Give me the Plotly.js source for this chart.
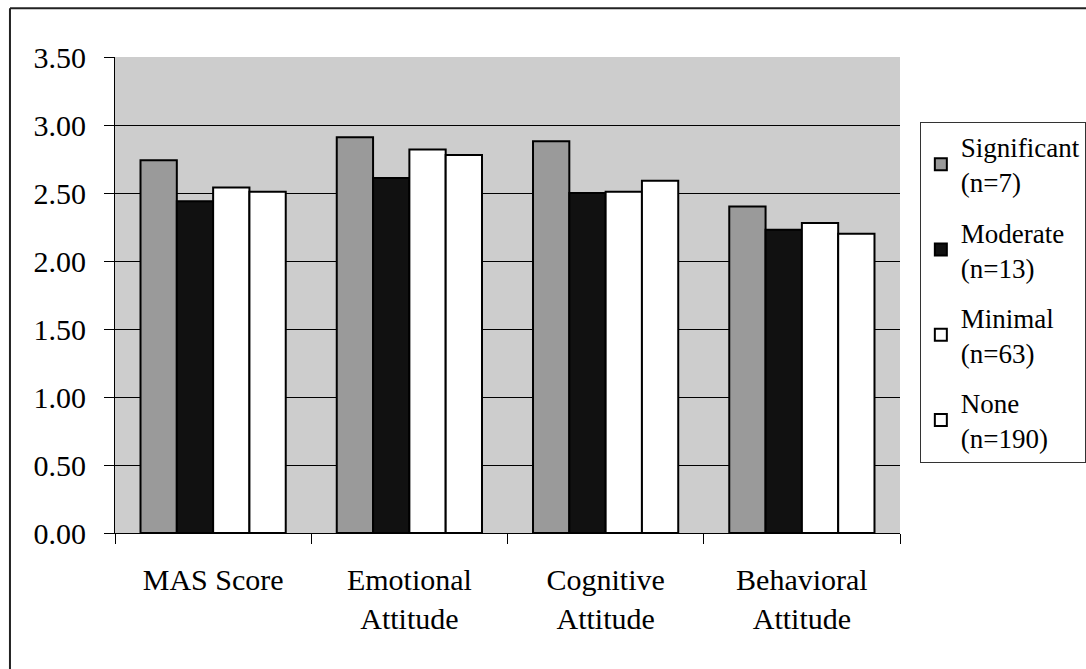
<!DOCTYPE html>
<html>
<head>
<meta charset="utf-8">
<script src="https://cdn.plot.ly/plotly-3.0.1.min.js"></script>
<style>
html,body{margin:0;padding:0;background:#fff;}
#chart{width:1086px;height:669px;}
</style>
</head>
<body>
<div id="chart"></div>
<script>
const categories = ["MAS Score", "Emotional<br>Attitude", "Cognitive<br>Attitude", "Behavioral<br>Attitude"];
const seriesNames = ["Significant<br>(n=7)", "Moderate<br>(n=13)", "Minimal<br>(n=63)", "None<br>(n=190)"];
const significant = [2.74, 2.91, 2.88, 2.40];
const moderate = [2.44, 2.61, 2.50, 2.23];
const minimal = [2.54, 2.82, 2.51, 2.28];
const none = [2.51, 2.78, 2.59, 2.20];
const yTicks = [0, 0.5, 1, 1.5, 2, 2.5, 3, 3.5];
const yTickText = ["0.00", "0.50", "1.00", "1.50", "2.00", "2.50", "3.00", "3.50"];

const fills = ["#9a9a9a", "#111111", "#ffffff", "#ffffff"];
const values = [significant, moderate, minimal, none];

const FAM = "Liberation Serif, Times New Roman, serif";

const traces = values.map((v, i) => ({
  type: "bar",
  name: seriesNames[i],
  legendgroup: "g" + i,
  x: categories,
  y: v,
  marker: {color: fills[i], line: {color: "#000", width: 2}},
  hoverinfo: "skip"
}));

const axisFont = {family: FAM, size: 30, color: "#000"};
const legendFont = {family: FAM, size: 27, color: "#000"};

const layout = {
  width: 1086,
  height: 669,
  margin: {l: 115, r: 186, t: 57, b: 136, autoexpand: false},
  paper_bgcolor: "#ffffff",
  plot_bgcolor: "#cdcdcd",
  font: {family: FAM, size: 30, color: "#000"},
  barmode: "group",
  bargap: 0.26,
  bargroupgap: 0,
  showlegend: true,
  legend: {
    xref: "container", yref: "container",
    x: 0.847, y: 0.818, xanchor: "left", yanchor: "top",
    bgcolor: "#ffffff", bordercolor: "#333", borderwidth: 1,
    font: legendFont, itemwidth: 30, tracegroupgap: 12, maxheight: 0.9
  },
  xaxis: {
    type: "category",
    showline: true, linecolor: "#000", linewidth: 1,
    showgrid: false,
    ticks: "outside", ticklen: 10, tickcolor: "#000",
    tickson: "boundaries",
    tickfont: axisFont,
    ticklabelstandoff: 20
  },
  yaxis: {
    range: [0, 3.5],
    tickvals: yTicks, ticktext: yTickText,
    showline: true, linecolor: "#000", linewidth: 1,
    showgrid: true, gridcolor: "#000", gridwidth: 1,
    ticks: "outside", ticklen: 10, tickcolor: "#000",
    tickfont: axisFont,
    ticklabelstandoff: 12,
    zeroline: false
  },
  shapes: [
    {type: "line", xref: "paper", yref: "paper", x0: -0.1338, x1: 1.3, y0: 1.1025, y1: 1.1025, line: {color: "#222", width: 2}},
    {type: "line", xref: "paper", yref: "paper", x0: -0.1338, x1: -0.1338, y0: 1.1025, y1: -0.35, line: {color: "#222", width: 2}}
  ]
};

Plotly.newPlot("chart", traces, layout, {staticPlot: true, displayModeBar: false});
</script>
</body>
</html>
